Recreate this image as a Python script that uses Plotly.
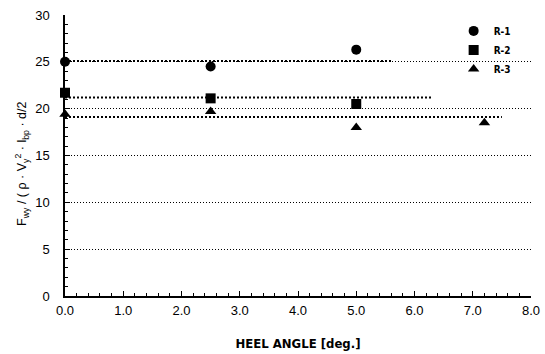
import plotly.graph_objects as go

# Data
r1_x = [0.0, 2.5, 5.0]
r1_y = [25.0, 24.5, 26.3]
r2_x = [0.0, 2.5, 5.0]
r2_y = [21.7, 21.1, 20.5]
r3_x = [0.0, 2.5, 5.0, 7.2]
r3_y = [19.4, 19.7, 18.0, 18.5]
series_names = ["R-1", "R-2", "R-3"]
avg_level = [25.1, 21.2, 19.1]      # average lines
avg_line_end = [5.6, 6.3, 7.5]      # x extent of the average lines

x_ticks = [0, 1, 2, 3, 4, 5, 6, 7, 8]
x_tick_labels = ["0.0", "1.0", "2.0", "3.0", "4.0", "5.0", "6.0", "7.0", "8.0"]
y_ticks = [0, 5, 10, 15, 20, 25, 30]

fig = go.Figure()

series = [(r1_x, r1_y, "circle"), (r2_x, r2_y, "square"), (r3_x, r3_y, "triangle-up")]

for lvl, xe in zip(avg_level, avg_line_end):
    fig.add_trace(go.Scatter(x=[0, xe], y=[lvl, lvl], mode="lines",
                             line=dict(color="black", width=2, dash="2px,2px"),
                             showlegend=False, hoverinfo="skip"))

for (xs, ys, sym), name in zip(series, series_names):
    fig.add_trace(go.Scatter(x=xs, y=ys, mode="markers", name=name,
                             marker=dict(symbol=sym, size=10, color="black"),
                             cliponaxis=False))

fig.update_layout(
    width=545, height=354,
    margin=dict(l=65, r=14, t=15, b=58, autoexpand=False),
    plot_bgcolor="white", paper_bgcolor="white",
    font=dict(family="Liberation Sans, Arial, sans-serif", color="black", size=13),
    legend=dict(x=0.834, y=0.995, xanchor="left", yanchor="top",
                bgcolor="rgba(0,0,0,0)", itemwidth=30,
                font=dict(size=10, family="DejaVu Sans Condensed, Liberation Sans", weight="bold"),
                tracegroupgap=0),
    annotations=[dict(
        text="F<sub>wy</sub> / ( ρ · V<sub>y</sub><sup>2</sup> · l<sub>bp</sub> · d/2",
        textangle=-90, xref="paper", yref="paper",
        x=-43 / 466, y=0.47, xanchor="center", yanchor="middle",
        showarrow=False, font=dict(size=12.5))],
)

fig.update_xaxes(
    range=[0, 8], tickvals=x_ticks, ticktext=x_tick_labels,
    showline=True, linecolor="black", linewidth=1.5,
    ticks="inside", ticklen=5, tickcolor="black",
    minor=dict(dtick=0.2, ticks="inside", ticklen=3, tickcolor="black"),
    showgrid=False, zeroline=False, automargin=False,
    ticklabelstandoff=2,
    title=dict(text="HEEL ANGLE [deg.]", standoff=22,
               font=dict(size=13, family="DejaVu Sans Condensed, Liberation Sans", weight="bold")),
)

fig.update_yaxes(
    range=[0, 30], tickvals=y_ticks,
    showline=True, linecolor="black", linewidth=1.5,
    ticks="inside", ticklen=5, tickcolor="black",
    minor=dict(dtick=1, ticks="inside", ticklen=3, tickcolor="black", showgrid=False),
    showgrid=True, gridcolor="black", gridwidth=1, griddash="1px,2px",
    zeroline=False, automargin=False,
    ticklabelstandoff=11,
)

fig.write_html("out.html", config={"displayModeBar": False},
               post_script="document.body.style.margin='0';document.body.style.overflow='hidden';")
